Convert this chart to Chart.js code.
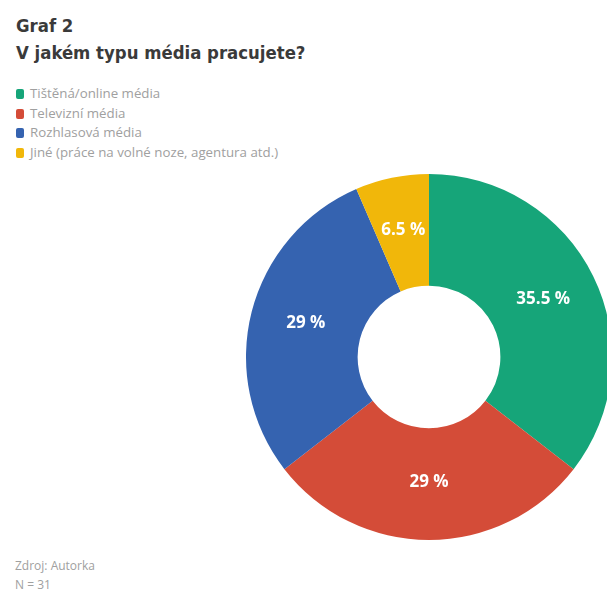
<!DOCTYPE html>
<html>
<head>
<meta charset="utf-8">
<script src="https://cdn.jsdelivr.net/npm/chart.js@4"></script>
<style>
  html, body { margin: 0; padding: 0; background: #fff; overflow: hidden; }
  body { width: 607px; height: 593px; position: relative; }
  #title { position: absolute; left: 16px; top: 12px; font-family: "DejaVu Sans Condensed", "DejaVu Sans", sans-serif; font-stretch: condensed; font-weight: bold; font-size: 18.4px; line-height: 27px; color: #3a3a3a; }
  #legend { position: absolute; left: 16px; top: 84px; font-family: "Open Sans", sans-serif; font-size: 13.3px; line-height: 19.5px; color: #a0a0a0; }
  #legend div { white-space: nowrap; }
  #legend span { display: inline-block; width: 8px; height: 10px; border-radius: 2px; margin-right: 6px; vertical-align: -1px; }
  #foot { position: absolute; left: 15px; top: 556px; font-family: "Open Sans", sans-serif; font-size: 12px; line-height: 19px; color: #a0a0a0; }
  #wrap { position: absolute; left: 246px; top: 174px; width: 366px; height: 366px; }
</style>
</head>
<body>
<div id="title">Graf 2<br>V jakém typu média pracujete?</div>
<div id="legend"></div>
<div id="foot">Zdroj: Autorka<br>N = 31</div>
<div id="wrap"><canvas id="pie"></canvas></div>
<script>
// data
var labels = ['Tištěná/online média', 'Televizní média', 'Rozhlasová média', 'Jiné (práce na volné noze, agentura atd.)'];
var shares = [35.5, 29, 29, 6.5];
var shareText = ['35.5 %', '29 %', '29 %', '6.5 %'];
var colors = ['#16a579', '#d44c38', '#3563b0', '#f1b70a'];

// legend as html
var legend = document.getElementById('legend');
labels.forEach(function (l, i) {
  var row = document.createElement('div');
  row.innerHTML = '<span style="background:' + colors[i] + '"></span>' + l;
  legend.appendChild(row);
});

// write the % inside each slice
var sliceLabels = {
  id: 'sliceLabels',
  afterDatasetsDraw: function (chart) {
    var c = chart.ctx;
    c.save();
    c.fillStyle = '#fff';
    c.font = 'bold 17px "Open Sans", sans-serif';
    c.textAlign = 'center';
    c.textBaseline = 'middle';
    chart.getDatasetMeta(0).data.forEach(function (arc, i) {
      var p = arc.tooltipPosition();
      c.fillText(shareText[i], p.x, p.y - 2);
    });
    c.restore();
  }
};

new Chart(document.getElementById('pie'), {
  type: 'doughnut',
  data: {
    labels: labels,
    datasets: [{
      data: shares,
      backgroundColor: colors,
      borderWidth: 0
    }]
  },
  options: {
    responsive: true,
    maintainAspectRatio: false,
    animation: false,
    cutout: '39%',
    layout: { padding: 0 },
    plugins: { legend: { display: false }, tooltip: { enabled: false } }
  },
  plugins: [sliceLabels]
});
</script>
</body>
</html>
